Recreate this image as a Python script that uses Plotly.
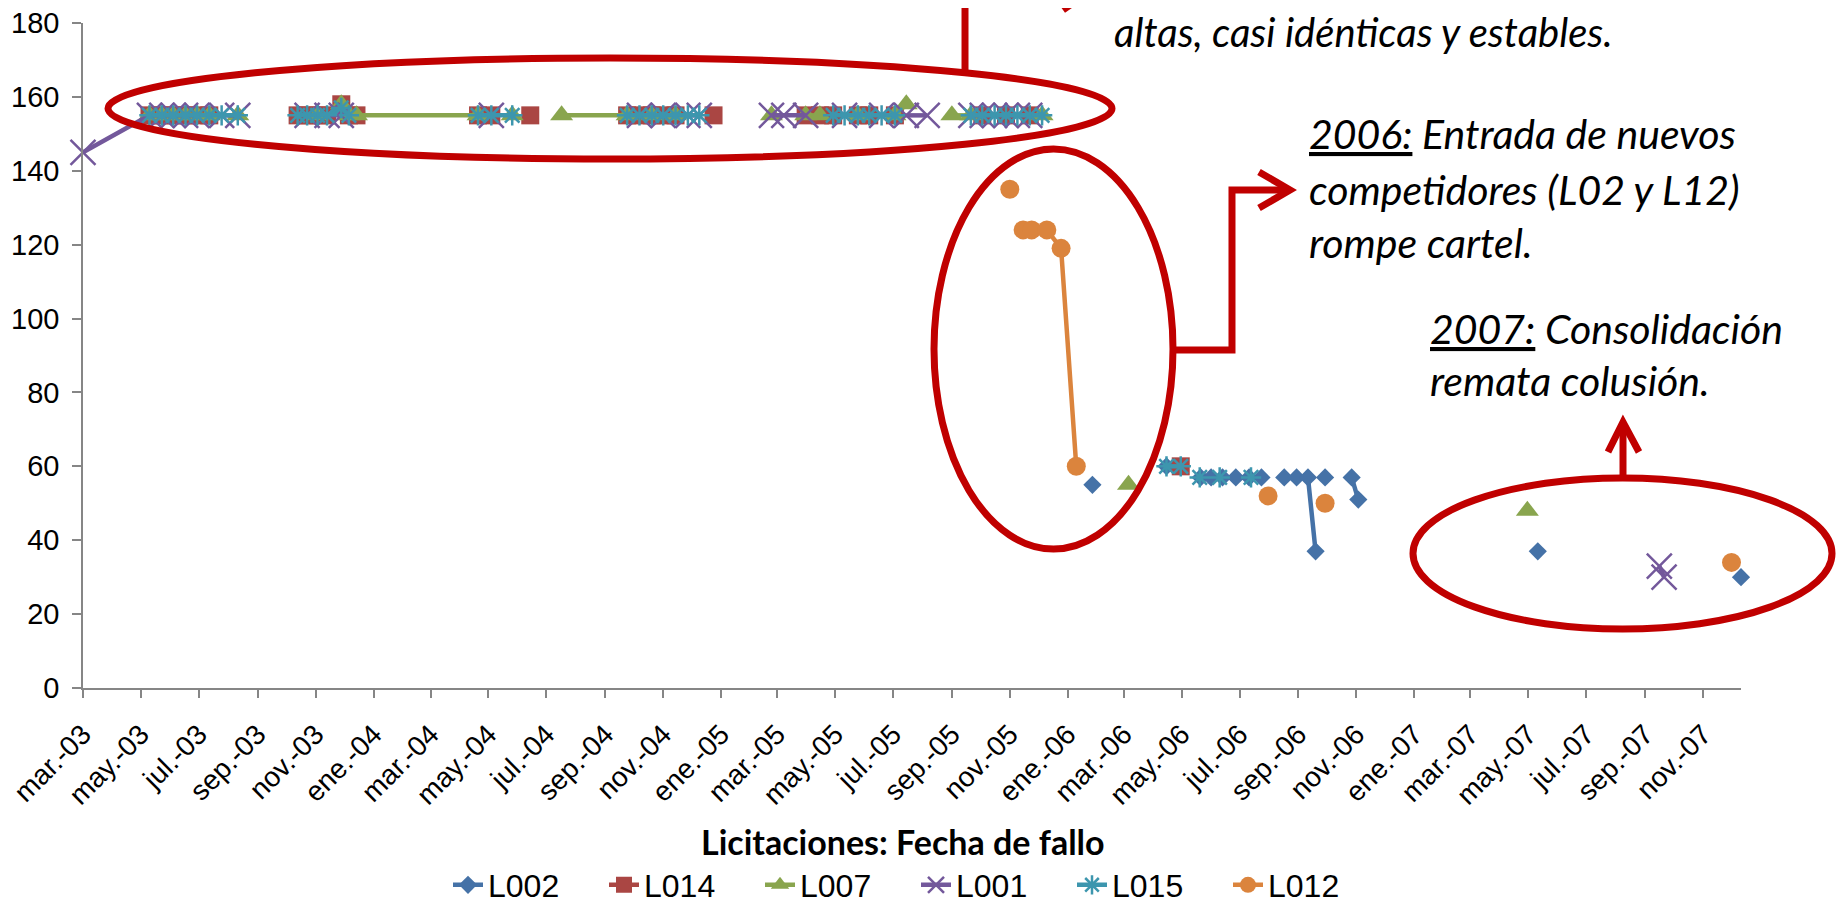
import plotly.graph_objects as go
import pandas as pd

N = None

# ---------------- data ----------------
L002_dates = ["2006-01-27", "2006-03-01", "2006-04-15", "2006-05-01", "2006-05-21", "2006-06-01",
              "2006-06-13", "2006-06-27", "2006-07-11", "2006-07-24", "2006-08-01", "2006-08-17",
              "2006-08-30", "2006-09-11", "2006-09-19", "2006-09-24", "2006-09-29", "2006-10-10",
              "2006-10-27", "2006-11-03", "2007-01-01", "2007-05-11", "2007-07-01", "2007-12-11"]
L002_vals = [55, N, 60, N, 57, 57, 57, 57, 57, 57, N, 57, 57, 57, 37, N, 57, N, 57, 51, N, 37, N, 30]

L014_dates = ["2003-05-10", "2003-05-23", "2003-06-04", "2003-06-17", "2003-06-29", "2003-07-12", "2003-08-01",
              "2003-10-13", "2003-10-23", "2003-11-03", "2003-11-13", "2003-11-28", "2003-12-06", "2003-12-14",
              "2004-01-15", "2004-04-20", "2004-05-04", "2004-05-20", "2004-06-14", "2004-08-01",
              "2004-09-24", "2004-10-07", "2004-10-20", "2004-11-01", "2004-11-14", "2004-12-01", "2004-12-24",
              "2005-02-01", "2005-03-31", "2005-04-15", "2005-04-29", "2005-05-11", "2005-05-25", "2005-06-06",
              "2005-06-19", "2005-07-03", "2005-08-01", "2005-10-03", "2005-10-16", "2005-10-28", "2005-11-09",
              "2005-11-22", "2006-01-01", "2006-04-30"]
L014_vals = [155, 155, 155, 155, 155, 155, N,
             155, 155, 155, 155, 158, 155, 155,
             N, 155, 155, N, 155, N,
             155, 155, 155, 155, 155, N, 155,
             N, 155, 155, 155, N, 155, 155,
             N, 155, N, 155, N, 155, N,
             155, N, 60]

L007_dates = ["2003-05-10", "2003-05-23", "2003-06-04", "2003-06-17", "2003-06-29", "2003-07-12", "2003-07-25",
              "2003-08-11", "2003-09-15", "2003-11-03", "2003-11-15", "2003-11-28", "2003-12-06", "2003-12-14",
              "2004-04-20", "2004-05-04", "2004-05-26", "2004-06-14", "2004-07-17", "2004-09-24", "2004-10-07",
              "2004-10-20", "2004-11-01", "2004-11-14", "2005-01-15", "2005-02-23", "2005-03-08", "2005-03-31",
              "2005-04-15", "2005-04-29", "2005-05-25", "2005-06-06", "2005-07-03", "2005-07-15", "2005-08-01",
              "2005-09-01", "2005-09-21", "2005-10-15", "2005-12-05", "2006-01-01", "2006-03-06", "2006-06-01",
              "2007-04-30"]
L007_vals = [155, 155, 155, 155, 155, 155, N,
             155, N, 155, N, 158, 155, 155,
             155, N, 155, N, 155, 155, N,
             155, N, 155, N, 155, N, 155,
             155, N, 155, N, 155, 158, N,
             155, 155, N, 155, N, 55, N,
             48]

L001_dates = ["2003-03-01", "2003-05-10", "2003-05-23", "2003-06-04", "2003-06-17", "2003-06-29", "2003-07-12",
              "2003-07-25", "2003-08-11", "2003-09-15", "2003-10-23", "2003-11-03", "2003-11-13", "2003-11-28",
              "2004-01-15", "2004-05-04", "2004-06-01", "2004-10-07", "2004-10-20", "2004-11-01", "2004-11-14",
              "2004-11-27", "2004-12-09", "2005-01-15", "2005-02-23", "2005-03-08", "2005-03-31", "2005-04-15",
              "2005-05-11", "2005-05-25", "2005-06-19", "2005-07-03", "2005-07-15", "2005-08-06", "2005-08-20",
              "2005-09-21", "2005-10-03", "2005-10-16", "2005-10-28", "2005-11-09", "2005-11-22", "2006-06-01",
              "2007-09-16", "2007-09-21"]
L001_vals = [145, 155, 155, 155, 155, 155, N,
             155, 155, N, 155, N, 155, 155,
             N, 155, N, 155, N, 155, N,
             155, 155, N, 155, 155, 155, N,
             155, N, 155, N, 155, 155, N,
             155, 155, 155, 155, 155, 155, N,
             33, 30]

L015_dates = ["2003-05-10", "2003-05-23", "2003-06-04", "2003-06-17", "2003-06-29", "2003-07-12", "2003-07-25",
              "2003-08-11", "2003-09-15", "2003-10-13", "2003-10-23", "2003-11-03", "2003-11-13", "2003-11-28",
              "2003-12-06", "2004-01-15", "2004-04-20", "2004-05-04", "2004-05-26", "2004-07-01", "2004-09-24",
              "2004-10-07", "2004-10-20", "2004-11-01", "2004-11-14", "2004-11-27", "2004-12-09", "2005-02-01",
              "2005-04-29", "2005-05-11", "2005-05-25", "2005-06-06", "2005-06-19", "2005-07-03", "2005-08-01",
              "2005-09-21", "2005-10-03", "2005-10-16", "2005-10-28", "2005-11-09", "2005-11-22", "2005-12-05",
              "2006-02-01", "2006-04-15", "2006-04-30", "2006-05-10", "2006-05-20", "2006-06-01", "2006-06-10",
              "2006-06-20", "2006-07-13"]
L015_vals = [155, 155, 155, 155, 155, 155, 155,
             155, N, 155, 155, 155, 155, 157,
             155, N, 155, 155, 155, N, 155,
             155, 155, 155, 155, 155, 155, N,
             155, 155, 155, 155, 155, 155, N,
             155, 155, 155, 155, 155, 155, 155,
             N, 60, 60, N, 57, N, 57,
             N, 57]

L012_dates = ["2005-11-01", "2005-11-08", "2005-11-15", "2005-11-24", "2005-12-01", "2005-12-10", "2005-12-25",
              "2006-01-10", "2006-03-01", "2006-07-31", "2006-08-15", "2006-09-29", "2007-01-01", "2007-12-01"]
L012_vals = [135, N, 124, 124, N, 124, 119, 60, N, 52, N, 50, N, 34]

series_names = ["L002", "L014", "L007", "L001", "L015", "L012"]

tick_labels = ["mar.-03", "may.-03", "jul.-03", "sep.-03", "nov.-03",
               "ene.-04", "mar.-04", "may.-04", "jul.-04", "sep.-04", "nov.-04",
               "ene.-05", "mar.-05", "may.-05", "jul.-05", "sep.-05", "nov.-05",
               "ene.-06", "mar.-06", "may.-06", "jul.-06", "sep.-06", "nov.-06",
               "ene.-07", "mar.-07", "may.-07", "jul.-07", "sep.-07", "nov.-07"]
tick_dates = pd.date_range("2003-03-01", periods=len(tick_labels), freq="2MS")

# ---------------- styling ----------------
COLORS = {"L002": "#4572A7", "L014": "#AA4643", "L007": "#89A54E",
          "L001": "#73589B", "L015": "#3D96AE", "L012": "#DB843D"}
MARKERS = {"L002": ("diamond", 14, 0), "L014": ("square", 18, 0), "L007": ("triangle-up", 20, 0),
           "L001": ("x-thin-open", 25, 2.5), "L015": ("asterisk-open", 17, 2.5), "L012": ("circle", 19, 0)}
DATA = {"L002": (L002_dates, L002_vals), "L014": (L014_dates, L014_vals), "L007": (L007_dates, L007_vals),
        "L001": (L001_dates, L001_vals), "L015": (L015_dates, L015_vals), "L012": (L012_dates, L012_vals)}

W, H = 1845, 908
OFF = 8  # page body margin of the html page
PL, PR, PT, PB = 83, 1741, 23, 688   # plot area in screenshot pixels
RED = "#C00000"
TXT_FONT = "Lato, Carlito, Calibri, 'Open Sans', sans-serif"
AX_FONT = "'Liberation Sans', Arial, sans-serif"


def px(x):
    return (x - PL) / (PR - PL)


def py(y):
    return (PB - y) / (PB - PT)


fig = go.Figure()
for name in series_names:
    d, v = DATA[name]
    sym, size, lw = MARKERS[name]
    c = COLORS[name]
    fig.add_trace(go.Scatter(
        x=d, y=v, name=name, mode="lines+markers", connectgaps=False, cliponaxis=False,
        line=dict(color=c, width=4.5),
        marker=dict(symbol=sym, size=size, color=c, line=dict(color=c, width=lw)),
    ))

shapes = []
for (x0, y0, x1, y1) in [(108, 58, 1112, 159), (934, 149, 1173, 549), (1413, 478, 1832, 629)]:
    shapes.append(dict(type="circle", xref="paper", yref="paper",
                       x0=px(x0), x1=px(x1), y0=py(y1), y1=py(y0),
                       line=dict(color=RED, width=7)))


def path(points):
    s = "M " + " L ".join(f"{px(a):.5f},{py(b):.5f}" for a, b in points)
    return dict(type="path", xref="paper", yref="paper", path=s, line=dict(color=RED, width=7))


shapes.append(path([(965, 70), (965, -20)]))
shapes.append(path([(1063, 10), (1100, -16)]))
shapes.append(path([(1173, 350), (1232, 350), (1232, 190), (1286, 190)]))
shapes.append(path([(1259, 172), (1290, 190), (1259, 208)]))
shapes.append(path([(1623, 478), (1623, 425)]))
shapes.append(path([(1608, 452), (1623, 422), (1639, 452)]))

annotations = []
TS = 41


def txt(text, x_left, vis_center, size=TS):
    annotations.append(dict(text=f"<i>{text}</i>", xref="paper", yref="paper",
                            x=px(x_left), y=py(vis_center - 5),
                            xanchor="left", yanchor="middle", showarrow=False,
                            font=dict(family=TXT_FONT, size=size, color="black")))


txt("altas, casi idénticas y estables.", 1112, 37, size=40)
txt("<u>2006:</u> Entrada de nuevos", 1307, 139)
txt("competidores (L02 y L12)", 1307, 194)
txt("rompe cartel.", 1307, 247)
txt("<u>2007:</u> Consolidación", 1428, 333)
txt("remata colusión.", 1428, 385)

annotations.append(dict(text="<b>Licitaciones: Fecha de fallo</b>", xref="paper", yref="paper",
                        x=px(903), y=py(841), xanchor="center", yanchor="middle", showarrow=False,
                        font=dict(family=TXT_FONT, size=34, color="black")))

fig.update_layout(
    width=W, height=H,
    margin=dict(l=PL - OFF, r=W - (PR - OFF), t=PT - OFF, b=H - (PB - OFF), autoexpand=False),
    paper_bgcolor="white", plot_bgcolor="white",
    shapes=shapes, annotations=annotations,
    showlegend=True,
    legend=dict(orientation="h", x=px(448), xanchor="left", y=py(885), yanchor="middle",
                font=dict(family=AX_FONT, size=32, color="black"),
                entrywidth=111, entrywidthmode="pixels", itemwidth=30,
                bgcolor="rgba(0,0,0,0)", traceorder="normal"),
    xaxis=dict(type="date", range=["2003-03-01", "2007-12-11"], tickvals=tick_dates, ticktext=tick_labels,
               tickangle=-45, ticks="outside", ticklen=8, tickwidth=1.5, tickcolor="#868686",
               showline=True, linecolor="#868686", linewidth=1.5, showgrid=False, zeroline=False,
               automargin=False, ticklabelstandoff=9, ticklabeloverflow="allow",
               tickfont=dict(family=AX_FONT, size=28, color="black")),
    yaxis=dict(range=[0, 180], tick0=0, dtick=20, ticks="outside", ticklen=9, tickwidth=1.5,
               tickcolor="#868686", showline=True, linecolor="#868686", linewidth=1.5,
               showgrid=False, zeroline=False, automargin=False, ticklabelstandoff=7,
               ticklabeloverflow="allow",
               tickfont=dict(family=AX_FONT, size=29, color="black")),
)

fig.write_html("out.html")
